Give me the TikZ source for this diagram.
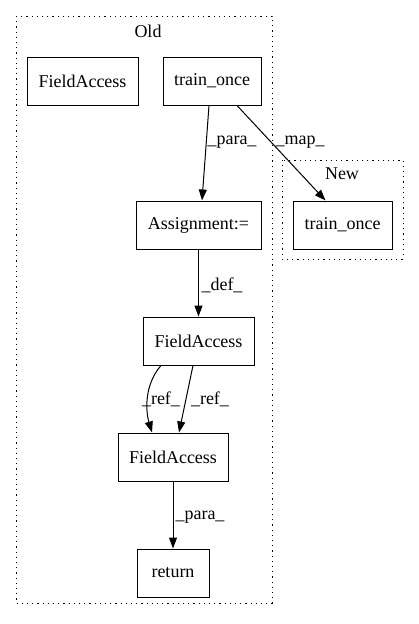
\documentclass[tikz,border=0pt]{standalone}
\usepackage{fontspec}
\setmainfont{Liberation Serif}
\usetikzlibrary{arrows.meta,calc}
\begin{document}
\begin{tikzpicture}[x=1pt,y=-1pt,
  box/.style={draw,line width=1pt,rectangle,minimum height=48pt,inner sep=0pt,font=\fontsize{18}{20}\selectfont},
  cluster/.style={draw,line width=1pt,dash pattern=on 1.2pt off 4pt},
  edge/.style={line width=1pt,-{Triangle[length=11pt,width=8pt]}},
  lbl/.style={font=\fontsize{18}{20}\selectfont,inner sep=0pt}]
\useasboundingbox (0,0) rectangle (419,624);
\draw[cluster] (16,16) rectangle (272,603);
\draw[cluster] (282,160) rectangle (403,259);
\node[lbl] (oldl) at (148,31) {Old};
\node[lbl] (newl) at (342,174) {New};
\node[box,minimum width=111pt] (fa1) at (82.5,81) {FieldAccess};
\node[box,minimum width=98pt] (to1) at (212,81) {train\_once};
\node[box,minimum width=125pt] (asg) at (198.5,225) {Assignment:=};
\node[box,minimum width=99pt] (to2) at (342.5,225) {train\_once};
\node[box,minimum width=111pt] (fa2) at (198.5,341) {FieldAccess};
\node[box,minimum width=110pt] (fa3) at (173,457) {FieldAccess};
\node[box,minimum width=72pt] (ret) at (173,573) {return};
\draw[edge] ([xshift=-3pt]to1.south) -- ([xshift=3.5pt]asg.north);
\draw[edge] ([xshift=25pt]to1.south) -- ([xshift=-17pt]to2.north);
\draw[edge] (asg.south) -- (fa2.north);
\draw[edge] ([xshift=-37.5pt]fa2.south) .. controls ([xshift=-55pt,yshift=-20pt]fa2.south) and ([xshift=-27pt,yshift=20pt]fa3.north) .. ([xshift=-21pt]fa3.north);
\draw[edge] ([xshift=-5.5pt]fa2.south) -- ([xshift=6pt]fa3.north);
\draw[edge] (fa3.south) -- (ret.north);
\node[lbl] (l1) at (232,142) {\_para\_};
\node[lbl] (l2) at (300,142) {\_map\_};
\node[lbl] (l3) at (222,285) {\_def\_};
\node[lbl] (l4) at (161,399) {\_ref\_};
\node[lbl] (l5) at (210,399) {\_ref\_};
\node[lbl] (l6) at (200,517) {\_para\_};
\end{tikzpicture}
\end{document}
